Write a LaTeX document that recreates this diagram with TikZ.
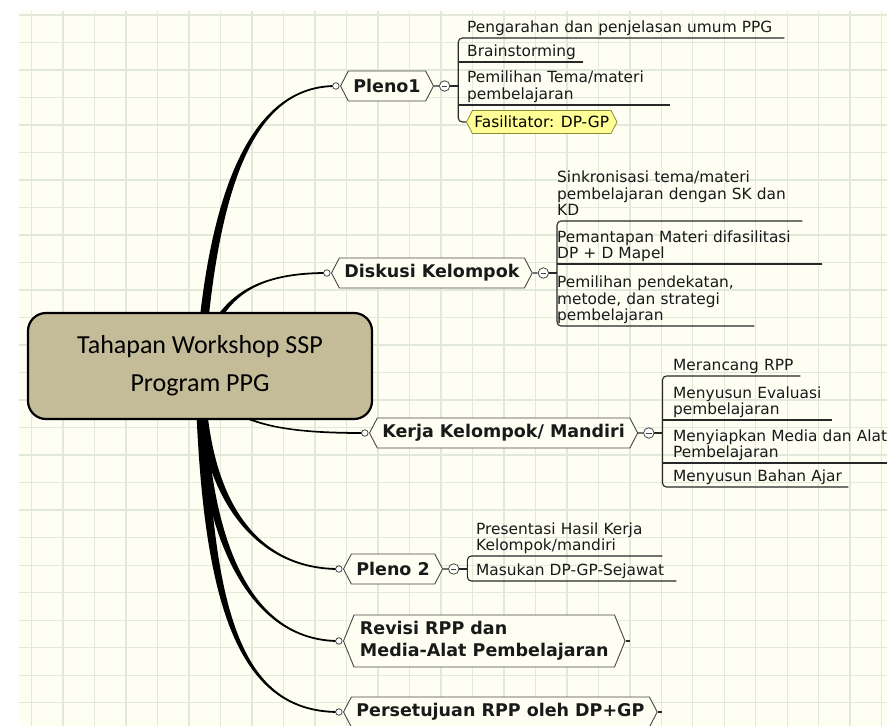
\documentclass[tikz,border=0pt]{standalone}
\usepackage{fontspec}
\usetikzlibrary{calc,positioning,backgrounds,shapes.symbols}
\newfontfamily\mapfont{DejaVu Sans}
\newfontfamily\hubfont{Carlito}
\definecolor{paper}{RGB}{254,254,242}
\definecolor{gridgreen}{RGB}{225,233,218}
\definecolor{hubtan}{RGB}{196,188,152}
\definecolor{topicgray}{RGB}{70,70,70}
\definecolor{stemgray}{RGB}{40,40,40}
\definecolor{calloutyellow}{RGB}{255,255,150}
\definecolor{calloutedge}{RGB}{140,140,60}
\newcommand{\mapbranch}[5]{%
  \fill ($(#1)+({-(#5)},0)$) .. controls ($(#2)+({-(#5)},0)$) and ($(#3)+(0,-0.9)$) .. ($(#4)+(0,-0.9)$)
   -- ($(#4)+(0,0.9)$) .. controls ($(#3)+(0,0.9)$) and ($(#2)+(#5,0)$) .. ($(#1)+(#5,0)$) -- cycle;}

\begin{document}
\begin{tikzpicture}[x=1pt,y=-1pt,
  gridline/.style={gridgreen,line width=1.4pt},
  hub/.style={rectangle,rounded corners=18pt,draw=black,line width=2.2pt,fill=hubtan,minimum width=344pt,minimum height=106pt,align=center,font=\hubfont\fontsize{26}{38}\selectfont},
  topic/.style={signal,signal to=west and east,signal pointer angle=125,draw=topicgray,line width=0.9pt,fill=paper,font=\mapfont\fontsize{17.5}{22}\selectfont\bfseries,text=black!90,inner xsep=5pt,minimum height=30pt,anchor=west},
  callout/.style={signal,signal to=west and east,signal pointer angle=125,draw=calloutedge,line width=0.8pt,fill=calloutyellow,font=\mapfont\fontsize{15.4}{16.6}\selectfont,inner xsep=2pt,minimum height=23pt,anchor=west},
  sub/.style={font=\mapfont\fontsize{15.4}{16.6}\selectfont,text=black!90,align=left,anchor=south west,inner xsep=0pt,inner ysep=2pt,execute at end node=\vphantom{gjpy}},
  dot/.style={circle,draw=topicgray,fill=white,line width=0.8pt,inner sep=0pt,minimum size=6.5pt},
  fold/.style={circle,draw=topicgray,fill=white,line width=0.8pt,inner sep=0pt,minimum size=10.5pt,
    path picture={\draw[line width=0.9pt] ([xshift=2.5pt]path picture bounding box.west) -- ([xshift=-2.5pt]path picture bounding box.east);}},
  stem/.style={stemgray,line width=1.1pt}]

\useasboundingbox (0,0) rectangle (887,726);
\begin{scope}[on background layer]
\fill[paper] (19,11) rectangle (887,726);
\foreach \k in {0,...,27} \draw[gridline] ({31.7+31.48*\k},11) -- ++(0,715);
\foreach \j in {0,...,25} \draw[gridline] (19,{15+27.51*\j}) -- ++(868,0);
\end{scope}

\node[hub] (hub) at (200,366) {Tahapan Workshop SSP\\Program PPG};

\node[topic] (p1) at (340,86) {Pleno1};
\node[dot,left=0.5pt of p1] (p1dot) {};
\node[fold,right=5pt of p1] (p1fold) {};
\coordinate (p1fork) at ([xshift=8pt]p1fold.east);
\node[sub,text width=317pt] (p1a) at (467,38) {Pengarahan dan penjelasan umum PPG};
\node[sub,text width=116pt] (p1b) at (467,62) {Brainstorming};
\node[sub,text width=203pt] (p1c) at (467,105) {Pemilihan Tema/materi\\pembelajaran};
\node[callout] (p1fas) at (466,122) {Fasilitator: DP-GP};
\draw[stem] (p1) -- (p1fold);
\draw[stem] (p1fold) -- (p1fork);
\draw[stem,rounded corners=4pt] (p1a.south east) -- (p1a.south -| p1fork) -- (p1fas.west -| p1fork) -- (p1fas.west);
\draw[stem] (p1b.south east) -- (p1b.south -| p1fork);
\draw[stem] (p1c.south east) -- (p1c.south -| p1fork);

\node[topic] (dk) at (331,273) {Diskusi Kelompok};
\node[dot,left=0.5pt of dk] (dkdot) {};
\node[fold,right=5pt of dk] (dkfold) {};
\coordinate (dkfork) at ([xshift=8pt]dkfold.east);
\node[sub,text width=245pt] (dka) at (557,221) {Sinkronisasi tema/materi\\pembelajaran dengan SK dan\\KD};
\node[sub,text width=265pt] (dkb) at (557,264) {Pemantapan Materi difasilitasi\\DP + D Mapel};
\node[sub,text width=197pt] (dkc) at (557,326) {Pemilihan pendekatan,\\metode, dan strategi\\pembelajaran};
\draw[stem] (dk) -- (dkfold);
\draw[stem] (dkfold) -- (dkfork);
\draw[stem,rounded corners=4pt] (dka.south east) -- (dka.south -| dkfork) -- (dkc.south -| dkfork) -- (dkc.south east);
\draw[stem] (dkb.south east) -- (dkb.south -| dkfork);

\node[topic] (kk) at (369,433) {Kerja Kelompok/ Mandiri};
\node[dot,left=0.5pt of kk] (kkdot) {};
\node[fold,right=5pt of kk] (kkfold) {};
\coordinate (kkfork) at ([xshift=8pt]kkfold.east);
\node[sub,text width=127pt] (kka) at (673,376) {Merancang RPP};
\node[sub,text width=159pt] (kkb) at (673,420) {Menyusun Evaluasi\\pembelajaran};
\node[sub,text width=240pt] (kkc) at (673,463) {Menyiapkan Media dan Alat\\Pembelajaran};
\node[sub,text width=175pt] (kkd) at (673,487) {Menyusun Bahan Ajar};
\draw[stem] (kk) -- (kkfold);
\draw[stem] (kkfold) -- (kkfork);
\draw[stem,rounded corners=4pt] (kka.south east) -- (kka.south -| kkfork) -- (kkd.south -| kkfork) -- (kkd.south east);
\draw[stem] (kkb.south east) -- (kkb.south -| kkfork);
\draw[stem] (kkc.south east) -- (kkc.south -| kkfork);

\node[topic] (p2) at (343,569) {Pleno 2};
\node[dot,left=0.5pt of p2] (p2dot) {};
\node[fold,right=5pt of p2] (p2fold) {};
\coordinate (p2fork) at ([xshift=8pt]p2fold.east);
\node[sub,text width=186pt] (p2a) at (476,556) {Presentasi Hasil Kerja\\Kelompok/mandiri};
\node[sub,text width=200pt] (p2b) at (476,581) {Masukan DP-GP-Sejawat};
\draw[stem] (p2) -- (p2fold);
\draw[stem] (p2fold) -- (p2fork);
\draw[stem,rounded corners=4pt] (p2a.south east) -- (p2a.south -| p2fork) -- (p2b.south -| p2fork) -- (p2b.south east);

\node[topic,align=left,minimum height=52pt,inner xsep=6pt,signal pointer angle=136] (rv) at (343,641) {Revisi RPP dan\\Media-Alat Pembelajaran};
\node[dot,left=0.5pt of rv] (rvdot) {};
\draw[stem] (rv.east) -- ++(4,0);

\node[topic] (ok) at (343,712) {Persetujuan RPP oleh DP+GP};
\node[dot,left=0.5pt of ok] (okdot) {};
\draw[stem] (ok.east) -- ++(4,0);

\begin{scope}[on background layer]
\mapbranch{hub.center}{214,165}{262,86}{p1dot.center}{4.5}
\mapbranch{hub.center}{215,300}{250,273}{dkdot.center}{3.5}
\mapbranch{hub.center}{215,425}{280,433}{kkdot.center}{-3}
\mapbranch{hub.center}{200,490}{250,569}{p2dot.center}{-5}
\mapbranch{hub.center}{200,540}{250,641}{rvdot.center}{-5}
\mapbranch{hub.center}{205,600}{235,712}{okdot.center}{-5}
\end{scope}
\end{tikzpicture}
\end{document}
